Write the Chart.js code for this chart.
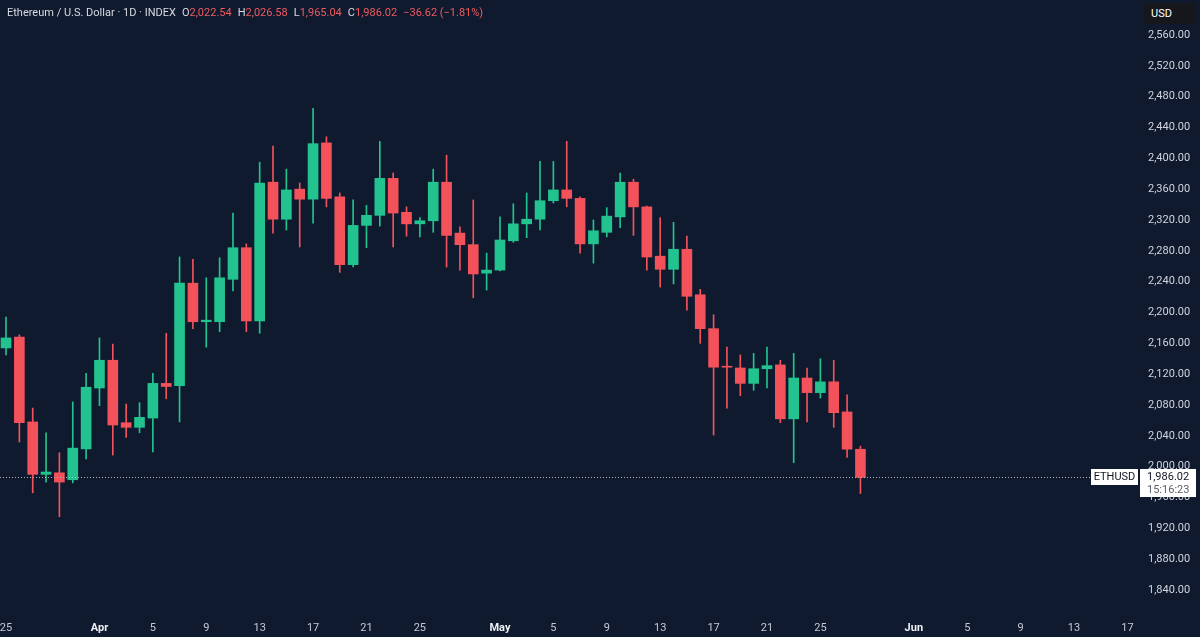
<!DOCTYPE html>
<html>
<head>
<meta charset="utf-8">
<script src="https://cdn.jsdelivr.net/npm/chart.js@4.4.1/dist/chart.umd.min.js"></script>
<style>
html, body { margin: 0; padding: 0; background: #0f1a2f; }
#wrap { position: relative; width: 1200px; height: 637px; overflow: hidden; }
#c { position: absolute; left: 0; top: 0; }
#hdr { position: absolute; left: 7px; top: 6px; font: 11px Roboto, sans-serif; color: #d8dbe2; white-space: nowrap; }
#hdr .g { margin-left: 6px; }
#hdr .v { color: #f05a5f; }
#usd { position: absolute; left: 1144px; top: 3px; width: 52px; height: 21px; background: #15171c; border-radius: 2px;
       color: #fff; font: 11px Roboto, sans-serif; line-height: 21px; padding-left: 7px; box-sizing: border-box; }
</style>
</head>
<body>
<div id="wrap">
  <canvas id="c" width="1200" height="637"></canvas>
  <div id="hdr"></div>
  <div id="usd">USD</div>
</div>
<script>
// daily candles, Mar 25 .. May 28 (index = days since Mar 25)
var opens  = [2154,2168,2058,1990,1992,1983,2023,2102,2138,2057,2051,2063,2108,2105,2238,2188,2188,2243,2284,2189,
              2369,2321,2360,2347,2420,2350,2262,2313,2326,2374,2330,2315,2319,2369,2303,2288,2251,2255,2293,2315,
              2321,2345,2359,2348,2289,2304,2324,2369,2337,2273,2256,2282,2223,2179,2130,2128,2108,2127,2132,2062,
              2115,2096,2110,2071,2022.54];
var highs  = [2194,2171,2076,2044,2018,2084,2121,2167,2159,2081,2083,2121,2173,2272,2269,2245,2271,2329,2289,2395,
              2416,2386,2368,2465,2428,2355,2346,2339,2422,2381,2337,2323,2386,2404,2311,2346,2277,2324,2341,2355,
              2396,2396,2422,2350,2320,2336,2381,2373,2338,2323,2317,2299,2230,2197,2155,2145,2147,2155,2138,2147,
              2128,2140,2138,2093,2026.58];
var lows   = [2145,2032,1966,1980,1935,1979,2010,2079,2015,2038,2044,2019,2088,2058,2179,2155,2175,2228,2175,2173,
              2303,2307,2285,2316,2337,2252,2259,2284,2312,2285,2299,2298,2304,2259,2255,2219,2229,2254,2291,2297,
              2307,2342,2337,2277,2264,2298,2310,2300,2255,2233,2237,2203,2160,2041,2076,2092,2099,2102,2057,2005,
              2058,2089,2051,2012,1965.04];
var closes = [2167,2057,1990,1993,1980,2024,2103,2138,2054,2051,2064,2108,2104,2238,2188,2190,2245,2284,2189,2368,
              2321,2359,2347,2419,2348,2262,2313,2326,2374,2329,2315,2319,2369,2300,2288,2250,2255,2294,2315,2321,
              2345,2359,2348,2289,2306,2325,2369,2337,2272,2256,2282,2221,2179,2129,2129,2108,2127,2131,2062,2115,
              2096,2110,2070,2022.64,1986.02];

var tickDays   = [0, 7, 11, 15, 19, 23, 27, 31, 37, 41, 45, 49, 53, 57, 61, 68, 72, 76, 80, 84];
var tickLabels = ['25','Apr','5','9','13','17','21','25','May','5','9','13','17','21','25','Jun','5','9','13','17'];
var monthLabels = ['Apr', 'May', 'Jun'];
var yTicks = [1840,1880,1920,1960,2000,2040,2080,2120,2160,2200,2240,2280,2320,2360,2400,2440,2480,2520,2560];

var UP = '#22c38e', DOWN = '#f3525b';
var FONT = 'Roboto, sans-serif';

function fmt(v) {
	return v.toLocaleString('en-US', {minimumFractionDigits: 2, maximumFractionDigits: 2});
}

var n = closes.length - 1;
var lastClose = closes[n];
var colors = closes.map(function(c, i) { return c >= opens[i] ? UP : DOWN; });

// header line
var chg = closes[n] - closes[n - 1];
var pct = chg / closes[n - 1] * 100;
var sign = chg < 0 ? '\u2212' : '+';
document.getElementById('hdr').innerHTML =
	'Ethereum / U.S. Dollar \u00b7 1D \u00b7 INDEX' +
	'<span class="g">O<span class="v">' + fmt(opens[n]) + '</span></span>' +
	'<span class="g">H<span class="v">' + fmt(highs[n]) + '</span></span>' +
	'<span class="g">L<span class="v">' + fmt(lows[n]) + '</span></span>' +
	'<span class="g">C<span class="v">' + fmt(closes[n]) + '</span></span>' +
	'<span class="g v">' + sign + fmt(Math.abs(chg)) + ' (' + sign + Math.abs(pct).toFixed(2) + '%)</span>';

// last price line + tags
var lastPricePlugin = {
	id: 'lastPrice',
	afterDraw: function(chart) {
		var ctx = chart.ctx;
		var y = Math.round(chart.scales.y.getPixelForValue(lastClose));
		ctx.save();
		ctx.strokeStyle = '#aeb3bf';
		ctx.lineWidth = 1;
		ctx.setLineDash([1, 2]);
		ctx.beginPath();
		ctx.moveTo(0, y + 0.5);
		ctx.lineTo(1090, y + 0.5);
		ctx.stroke();
		ctx.setLineDash([]);

		ctx.fillStyle = '#ffffff';
		ctx.fillRect(1091, y - 8, 47, 16);
		ctx.fillRect(1140, y - 8, 56, 28);

		ctx.font = '11px ' + FONT;
		ctx.textBaseline = 'middle';
		ctx.textAlign = 'center';
		ctx.fillStyle = '#131722';
		ctx.fillText('ETHUSD', 1114.5, y);
		ctx.textAlign = 'left';
		ctx.fillText(fmt(lastClose), 1147, y);
		ctx.fillStyle = '#5d606b';
		ctx.fillText('15:16:23', 1147, y + 13);
		ctx.restore();
	}
};

new Chart(document.getElementById('c'), {
	type: 'bar',
	data: {
		datasets: [{
			data: opens.map(function(o, i) { return {x: i, y: [o, closes[i]]}; }),
			backgroundColor: colors,
			barThickness: 10,
			minBarLength: 1,
			grouped: false
		}, {
			data: lows.map(function(l, i) { return {x: i, y: [l, highs[i]]}; }),
			backgroundColor: colors,
			barThickness: 1,
			grouped: false
		}]
	},
	options: {
		responsive: false,
		devicePixelRatio: 1,
		animation: false,
		layout: { padding: 0 },
		plugins: { legend: { display: false }, tooltip: { enabled: false } },
		scales: {
			x: {
				type: 'linear',
				min: -0.45,
				max: 84.94,
				offset: false,
				grid: { display: false, drawTicks: false },
				border: { display: false },
				afterBuildTicks: function(s) { s.ticks = tickDays.map(function(v) { return {value: v}; }); },
				afterFit: function(s) { s.height = 25; s.paddingLeft = 0; s.paddingRight = 0; },
				ticks: {
					padding: 10,
					autoSkip: false,
					maxRotation: 0,
					color: function(c) { return monthLabels.indexOf(tickLabels[c.index]) >= 0 ? '#eef0f4' : '#c5c9d3'; },
					font: function(c) {
						return { family: FONT, size: 11, weight: monthLabels.indexOf(tickLabels[c.index]) >= 0 ? 'bold' : 'normal' };
					},
					callback: function(v) { return tickLabels[tickDays.indexOf(v)]; }
				}
			},
			y: {
				position: 'right',
				min: 1811.4,
				max: 2605.4,
				grid: { display: false, drawTicks: false },
				border: { display: false },
				afterBuildTicks: function(s) { s.ticks = yTicks.map(function(v) { return {value: v}; }); },
				afterFit: function(s) { s.width = 60; s.paddingTop = 0; s.paddingBottom = 0; },
				ticks: {
					padding: 8,
					crossAlign: 'near',
					color: '#d1d4dc',
					font: { family: FONT, size: 11 },
					callback: function(v) { return fmt(v); }
				}
			}
		}
	},
	plugins: [lastPricePlugin]
});
</script>
</body>
</html>
